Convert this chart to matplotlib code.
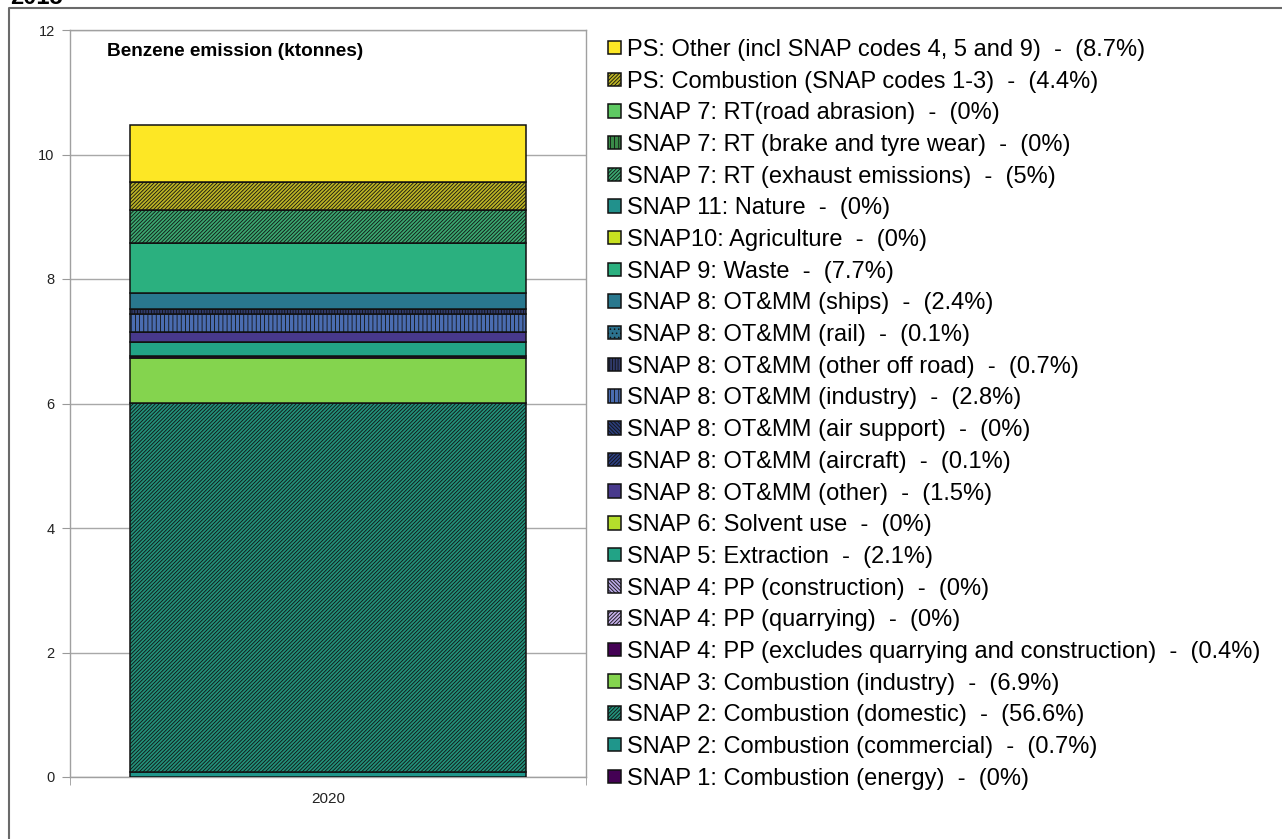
import matplotlib
matplotlib.use("Agg")
import matplotlib.pyplot as plt
from matplotlib.lines import Line2D

plt.rcParams['font.family'] = ['Liberation Sans', 'DejaVu Sans']
plt.rcParams['hatch.linewidth'] = 0.6

# ---- data (bottom of stack first) ----
year_labels = ["2020"]
sources = [
    "SNAP 1: Combustion (energy)",
    "SNAP 2: Combustion (commercial)",
    "SNAP 2: Combustion (domestic)",
    "SNAP 3: Combustion (industry)",
    "SNAP 4: PP (excludes quarrying and construction)",
    "SNAP 4: PP (quarrying)",
    "SNAP 4: PP (construction)",
    "SNAP 5: Extraction",
    "SNAP 6: Solvent use",
    "SNAP 8: OT&MM (other)",
    "SNAP 8: OT&MM (aircraft)",
    "SNAP 8: OT&MM (air support)",
    "SNAP 8: OT&MM (industry)",
    "SNAP 8: OT&MM (other off road)",
    "SNAP 8: OT&MM (rail)",
    "SNAP 8: OT&MM (ships)",
    "SNAP 9: Waste",
    "SNAP10: Agriculture",
    "SNAP 11: Nature",
    "SNAP 7: RT (exhaust emissions)",
    "SNAP 7: RT (brake and tyre wear)",
    "SNAP 7: RT(road abrasion)",
    "PS: Combustion (SNAP codes 1-3)",
    "PS: Other (incl SNAP codes 4, 5 and 9)",
]
share_labels = ["0%", "0.7%", "56.6%", "6.9%", "0.4%", "0%", "0%", "2.1%", "0%",
                "1.5%", "0.1%", "0%", "2.8%", "0.7%", "0.1%", "2.4%", "7.7%",
                "0%", "0%", "5%", "0%", "0%", "4.4%", "8.7%"]
emissions_2020 = [0.0, 0.073, 5.93, 0.72, 0.042, 0.0, 0.0, 0.22, 0.0,
                  0.157, 0.01, 0.0, 0.29, 0.073, 0.01, 0.25, 0.81,
                  0.0, 0.0, 0.52, 0.0, 0.0, 0.46, 0.91]

# ---- styles ----
face_colors = ["#440154", "#1f968b", "#22917a", "#84d44e", "#440154", "#c5b0ea",
               "#b8a8e6", "#22a386", "#b5de2b", "#48398c", "#2c3f80", "#2a3d78",
               "#4a6cb0", "#303a6a", "#2c728e", "#29788e", "#2bb07f", "#c8e020",
               "#21918c", "#3aa870", "#3a8a48", "#5ec962", "#bcb424", "#fde725"]
D = "/" * 9
B = "\\" * 9
hatches = [None, None, D, None, None, D, B, None, None,
           None, D, B, "||||", "||||||", "....", None, None,
           None, None, D, "||||", None, D, None]

W, H = 1282, 839
fig = plt.figure(figsize=(W / 100, H / 100), dpi=100)
ax = fig.add_axes([70 / W, 1 - 777 / H, (586 - 70) / W, (777 - 30) / H])

x = [0]
bottom = 0.0
handles = []
for name, share, val, fc, h in zip(sources, share_labels, emissions_2020, face_colors, hatches):
    bars = ax.bar(x, [val], width=0.767, bottom=[bottom], color=fc, hatch=h,
                  edgecolor="#111111", linewidth=1.1,
                  label=f"{name}  -  ({share})", zorder=3)
    handles.append(bars)
    bottom += val

ax.set_xlim(-0.5, 0.5)
ax.set_ylim(0, 12)
ax.set_yticks(range(0, 13, 2))
ax.tick_params(axis='y', labelsize=10.5, length=6, color="#999999", pad=5, labelcolor="#222222")
ax.set_xticks([0], labels=year_labels)
ax.tick_params(axis='x', which='major', length=0, labelsize=11, pad=11, labelcolor="#222222")
ax.set_xticks([-0.5, 0.5], minor=True)
ax.tick_params(axis='x', which='minor', length=6, color="#999999")
ax.yaxis.grid(True, color="#a8a8a8", linewidth=1.0, zorder=0)
ax.set_axisbelow(True)
for s in ax.spines.values():
    s.set_color("#a0a0a0")
    s.set_linewidth(1.0)

ax.text((107 - 70) / 516, (777 - 52) / 747, "Benzene emission (ktonnes)",
        transform=ax.transAxes, fontsize=13.7, fontweight='bold', va='center', ha='left')

leg = fig.legend(handles[::-1], [hd.get_label() for hd in handles[::-1]],
                 loc='upper left', bbox_to_anchor=(608 / W, 1 - 39 / H),
                 bbox_transform=fig.transFigure, frameon=False, fontsize=17,
                 handlelength=0.55, handleheight=0.5, handletextpad=0.25,
                 labelspacing=0.41, borderpad=0, borderaxespad=0)

# outer frame (top and left) and clipped header
fig.add_artist(Line2D([9 / W, 9 / W, 1.0], [0.0, 1 - 8 / H, 1 - 8 / H],
                      transform=fig.transFigure, color="#6a6a6a", linewidth=1.5))
fig.text(10 / W, 1 - 4 / H, "2015", fontsize=17, fontweight='bold', va='baseline', ha='left')

fig.savefig("out.png", dpi=100)
